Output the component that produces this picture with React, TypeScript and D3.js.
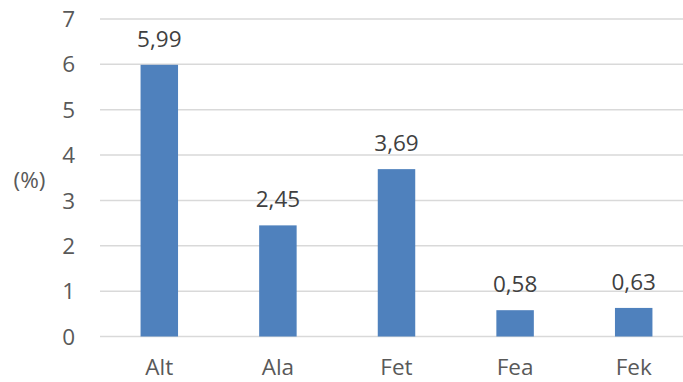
import React from 'react';
import * as d3 from 'd3';

const categories = ['Alt', 'Ala', 'Fet', 'Fea', 'Fek'];
const values = [5.99, 2.45, 3.69, 0.58, 0.63];
const yTicks = [0, 1, 2, 3, 4, 5, 6, 7];

const width = 683;
const height = 382;
const font = '"Open Sans", sans-serif';
const fs = 22.5;

export default function App() {
  const x = d3
    .scaleBand()
    .domain(categories)
    .range([100, 693])
    .paddingInner(0.684)
    .paddingOuter(0.342);

  const y = d3
    .scaleLinear()
    .domain([0, 7])
    .range([336.5, 19]);

  const fmt = (v: number) => d3.format('.2f')(v).replace('.', ',');

  return (
    <svg
      width={width}
      height={height}
      style={{ position: 'absolute', top: 0, left: 0, background: '#fff' }}
    >
      <g className="grid">
        {yTicks.map(t => (
          <line
            key={t}
            x1={100}
            x2={693}
            y1={y(t)}
            y2={y(t)}
            stroke="#d9d9d9"
            strokeWidth={1.5}
          />
        ))}
      </g>
      <g className="y-labels">
        {yTicks.map(t => (
          <text
            key={t}
            x={75}
            y={y(t)}
            dy="0.36em"
            textAnchor="end"
            fontFamily={font}
            fontSize={fs}
            fill="#595959"
          >
            {t}
          </text>
        ))}
      </g>
      <text
        x={29.5}
        y={180}
        dy="0.36em"
        textAnchor="middle"
        fontFamily={font}
        fontSize={fs}
        fill="#595959"
      >
        (%)
      </text>
      <g className="bars">
        {categories.map((c, i) => (
          <rect
            key={c}
            x={x(c)}
            y={y(values[i])}
            width={x.bandwidth()}
            height={y(0) - y(values[i])}
            fill="#4f81bd"
          />
        ))}
      </g>
      <g className="data-labels">
        {categories.map((c, i) => (
          <text
            key={c}
            x={(x(c) as number) + x.bandwidth() / 2}
            y={y(values[i]) - 18}
            textAnchor="middle"
            fontFamily={font}
            fontSize={fs}
            fill="#404040"
          >
            {fmt(values[i])}
          </text>
        ))}
      </g>
      <g className="x-labels">
        {categories.map(c => (
          <text
            key={c}
            x={(x(c) as number) + x.bandwidth() / 2}
            y={375}
            textAnchor="middle"
            fontFamily={font}
            fontSize={fs}
            fill="#595959"
          >
            {c}
          </text>
        ))}
      </g>
    </svg>
  );
}
